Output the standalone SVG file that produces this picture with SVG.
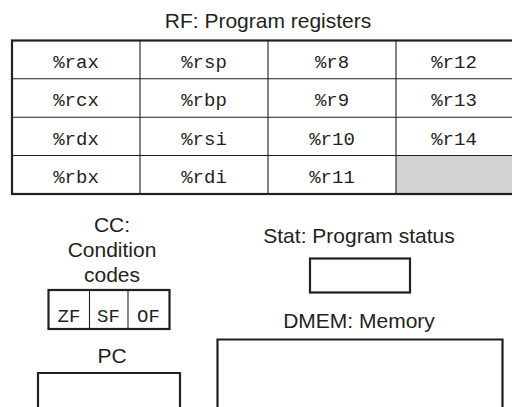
<svg xmlns="http://www.w3.org/2000/svg" width="512" height="407" viewBox="0 0 512 407">
<style>
.lbl{font-family:"Liberation Sans",Arial,sans-serif;font-size:21px;fill:#231f20;text-anchor:middle}
.reg{font-family:"Liberation Mono","DejaVu Sans Mono",monospace;font-size:19px;fill:#231f20;text-anchor:middle}
.thick{fill:none;stroke:#231f20;stroke-width:2.2}
.thin{fill:none;stroke:#231f20;stroke-width:1.1}
</style>
<rect width="512" height="407" fill="#fff"/>
<g id="rf">
<text class="lbl" x="268" y="28">RF: Program registers</text>
<rect x="396" y="155.5" width="120" height="38.5" fill="#d1d2d4"/>
<path class="thin" d="M140 40.5V194M268 40.5V194M396 40.5V194M12 78.8H516M12 117.2H516M12 155.5H516"/>
<rect class="thick" x="12" y="40.5" width="512" height="153.5"/>
<text class="reg" x="76" y="67.5">%rax</text>
<text class="reg" x="204" y="67.5">%rsp</text>
<text class="reg" x="332" y="67.5">%r8</text>
<text class="reg" x="454" y="67.5">%r12</text>
<text class="reg" x="76" y="106">%rcx</text>
<text class="reg" x="204" y="106">%rbp</text>
<text class="reg" x="332" y="106">%r9</text>
<text class="reg" x="454" y="106">%r13</text>
<text class="reg" x="76" y="144.5">%rdx</text>
<text class="reg" x="204" y="144.5">%rsi</text>
<text class="reg" x="332" y="144.5">%r10</text>
<text class="reg" x="454" y="144.5">%r14</text>
<text class="reg" x="76" y="183">%rbx</text>
<text class="reg" x="204" y="183">%rdi</text>
<text class="reg" x="332" y="183">%r11</text>
</g>
<g id="cc">
<text class="lbl" x="112" y="232">CC:</text>
<text class="lbl" x="112" y="257">Condition</text>
<text class="lbl" x="112" y="282">codes</text>
<path class="thin" d="M89.5 290V329M128 290V329"/>
<rect class="thick" x="48.5" y="290" width="121" height="39"/>
<text class="reg" x="69" y="321.5">ZF</text>
<text class="reg" x="108.5" y="321.5">SF</text>
<text class="reg" x="148.5" y="321.5">OF</text>
</g>
<g id="pc">
<text class="lbl" x="112" y="363">PC</text>
<path class="thick" d="M38 410V373H180V410"/>
</g>
<g id="stat">
<text class="lbl" x="359" y="243">Stat: Program status</text>
<rect class="thick" x="310" y="258.5" width="100" height="34"/>
</g>
<g id="dmem">
<text class="lbl" x="359" y="328">DMEM: Memory</text>
<path class="thick" d="M217.5 410V339.5H502.5V410"/>
</g>
<g id="connectors"/>
</svg>
